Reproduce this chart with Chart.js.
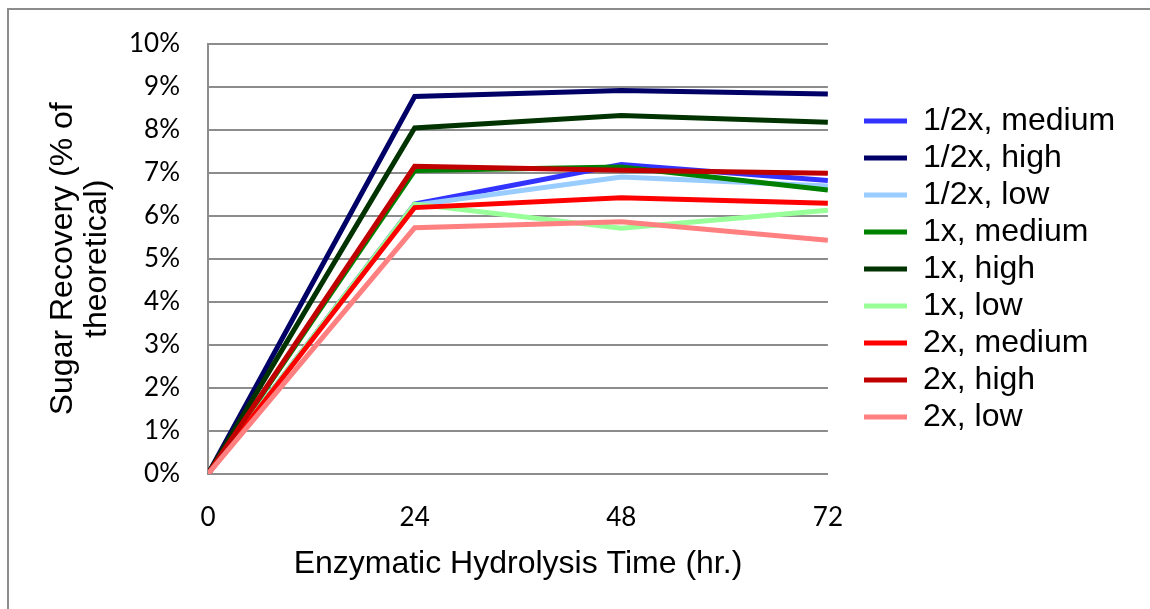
<!DOCTYPE html>
<html>
<head>
<meta charset="utf-8">
<script src="https://cdn.jsdelivr.net/npm/chart.js@4"></script>
<style>
  html, body { margin: 0; padding: 0; background: #fff; }
  #wrap { position: relative; width: 1150px; height: 609px; }
  #frame { position: absolute; left: 7px; top: 8px; right: 0; bottom: 0; border-left: 2px solid #8c8c8c; border-top: 2px solid #8c8c8c; pointer-events: none; }
  canvas { position: absolute; left: 0; top: 0; }
</style>
</head>
<body>
<div id="wrap">
  <canvas id="c" width="1150" height="609"></canvas>
  <div id="frame"></div>
</div>
<script>
const hours = [0, 24, 48, 72];
const xTicks = [0, 24, 48, 72];
const seriesNames = ["1/2x, medium", "1/2x, high", "1/2x, low", "1x, medium", "1x, high", "1x, low", "2x, medium", "2x, high", "2x, low"];
const halfMedium = [0, 6.27, 7.19, 6.82];
const halfHigh   = [0, 8.77, 8.91, 8.83];
const halfLow    = [0, 6.25, 6.90, 6.69];
const oneMedium  = [0, 7.05, 7.13, 6.60];
const oneHigh    = [0, 8.04, 8.33, 8.17];
const oneLow     = [0, 6.27, 5.71, 6.13];
const twoMedium  = [0, 6.19, 6.42, 6.29];
const twoHigh    = [0, 7.15, 7.06, 6.99];
const twoLow     = [0, 5.72, 5.86, 5.43];
const seriesValues = [halfMedium, halfHigh, halfLow, oneMedium, oneHigh, oneLow, twoMedium, twoHigh, twoLow];
const seriesColors = ["#3333ff", "#000066", "#99ccff", "#008000", "#003300", "#99ff99", "#ff0000", "#c00000", "#ff8080"];

const PAD = { left: 10, top: 42, right: 56, bottom: 0 };
const CH = 609;

const datasets = seriesNames.map((name, i) => ({
  label: name,
  data: hours.map((h, j) => ({ x: h, y: seriesValues[i][j] })),
  borderColor: seriesColors[i],
  backgroundColor: seriesColors[i],
  borderWidth: 5,
  pointRadius: 0,
  pointHoverRadius: 0,
  tension: 0,
  fill: false,
  order: seriesNames.length - i
}));

const legendShift = {
  id: 'legendShift',
  afterLayout(chart) {
    const lg = chart.legend;
    if (!lg) return;
    const dx = 864 - 5 - lg.left;
    const dy = 58;
    lg.left += dx; lg.right += dx;
    lg.top += dy; lg.bottom += dy;
  }
};

new Chart(document.getElementById('c'), {
  type: 'line',
  data: { datasets },
  plugins: [legendShift],
  options: {
    responsive: false,
    animation: false,
    events: [],
    layout: { padding: PAD },
    plugins: {
      tooltip: { enabled: false },
      legend: {
        position: 'right',
        align: 'start',
        labels: {
          sort: (a, b) => a.datasetIndex - b.datasetIndex,
          boxWidth: 43,
          boxHeight: 5,
          padding: 5,
          color: '#000',
          font: { family: 'Liberation Sans, Arial, sans-serif', size: 32 },
          generateLabels: (chart) => chart.data.datasets.map((d, i) => ({
            text: d.label, fillStyle: d.borderColor, strokeStyle: d.borderColor,
            lineWidth: 0, datasetIndex: i, hidden: false
          }))
        }
      }
    },
    scales: {
      x: {
        type: 'linear',
        min: 0, max: 72,
        afterBuildTicks: (s) => { s.ticks = xTicks.map(v => ({ value: v })); },
        afterFit: (s) => { s.height = CH - PAD.bottom - 474; },
        grid: { display: false, drawTicks: false },
        border: { display: true, color: '#8c8c8c', width: 2 },
        ticks: { color: '#000', padding: 28, font: { family: 'Lato, sans-serif', size: 26 } },
        title: { display: true, text: 'Enzymatic Hydrolysis Time (hr.)', color: '#000', padding: { top: 0, bottom: 26 },
                 font: { family: 'Liberation Sans, Arial, sans-serif', size: 32, lineHeight: 1.2 } }
      },
      y: {
        min: 0, max: 10,
        afterFit: (s) => { s.width = 208 - PAD.left; },
        ticks: { stepSize: 1, color: '#000', padding: 28, callback: v => v + '%',
                 font: { family: 'Lato, sans-serif', size: 26 } },
        grid: { color: '#8c8c8c', lineWidth: 2, drawTicks: false },
        border: { display: true, color: '#8c8c8c', width: 2 },
        title: { display: true, text: ['Sugar Recovery (% of', 'theoretical)'], color: '#000', padding: { top: 36, bottom: 0 },
                 font: { family: 'Liberation Sans, Arial, sans-serif', size: 32, lineHeight: 1.06 } }
      }
    }
  }
});
</script>
</body>
</html>
